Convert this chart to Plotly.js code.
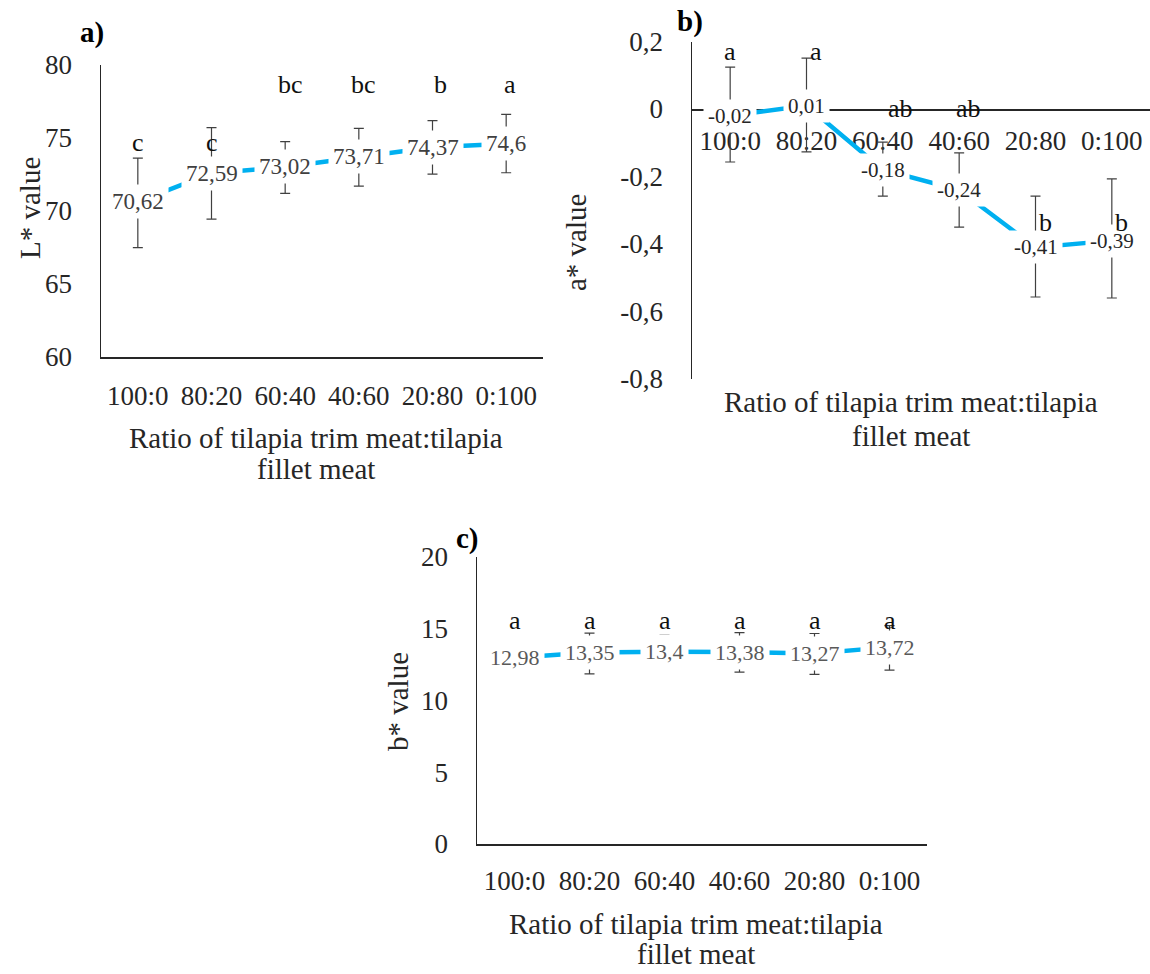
<!DOCTYPE html>
<html><head><meta charset="utf-8">
<script src="https://cdn.plot.ly/plotly-3.0.1.min.js"></script>
<style>html,body{margin:0;padding:0;background:#fff}#chart{width:1150px;height:974px}</style>
</head><body><div id="chart"></div>
<script>
// ---------- data ----------
const categories = ['100:0', '80:20', '60:40', '40:60', '20:80', '0:100'];

const lValues   = [70.62, 72.59, 73.02, 73.71, 74.37, 74.6];
const lErrPlus  = [3.0, 3.12, 1.73, 1.95, 1.82, 2.02];
const lErrMinus = [3.13, 3.14, 1.81, 2.0, 1.84, 1.98];
const lLetters  = ['c', 'c', 'bc', 'bc', 'b', 'a'];
const lLetterY  = [74.66, 74.66, 78.63, 78.63, 78.63, 78.63];

const aValues   = [-0.02, 0.01, -0.18, -0.24, -0.41, -0.39];
const aErrPlus  = [0.144, 0.141, 0.082, 0.11, 0.152, 0.183];
const aErrMinus = [0.137, 0.137, 0.078, 0.11, 0.147, 0.17];
const aLetters  = ['a', 'a', 'ab', 'ab', 'b', 'b'];
const aLetterY  = [0.17, 0.17, 0.0, 0.0, -0.335, -0.335];

const bValues   = [12.98, 13.35, 13.4, 13.38, 13.27, 13.72];
const bErrPlus  = [0.8, 1.35, 1.16, 1.35, 1.4, 1.5];
const bErrMinus = [0.8, 1.5, 0.8, 1.4, 1.45, 1.6];
const bLetters  = ['a', 'a', 'a', 'a', 'a', 'a'];
const bLetterY  = [15.6, 15.6, 15.6, 15.6, 15.6, 15.6];

const lTicks = [60, 65, 70, 75, 80];
const lTickText = ['60', '65', '70', '75', '80'];
const aTicks = [-0.8, -0.6, -0.4, -0.2, 0, 0.2];
const aTickText = ['-0,8', '-0,6', '-0,4', '-0,2', '0', '0,2'];
const bTicks = [0, 5, 10, 15, 20];
const bTickText = ['0', '5', '10', '15', '20'];

const xTitleLines = ['Ratio of tilapia trim meat:tilapia', 'fillet meat'];
const yTitles = ['L* value', 'a* value', 'b* value'];
const panelTags = ['a)', 'b)', 'c)'];

// ---------- layout helpers ----------
const W = 1150, H = 974;
const FONT = 'Liberation Serif, Times New Roman, serif';
const px = (x0, x1) => [x0 / W, x1 / W];
const py = (top, bottom) => [1 - bottom / H, 1 - top / H];
const fmt = v => String(v).replace('.', ',');

const panels = [
  {id: '', values: lValues, ep: lErrPlus, em: lErrMinus, letters: lLetters, letterY: lLetterY,
   ticks: lTicks, tickText: lTickText, range: [60, 80], ytitle: yTitles[0], tag: panelTags[0],
   xdom: px(101, 543), ydom: py(65, 357), ytx: 30, yty: 208, tagx: 92, tagy: 32,
   xt: [438, 469], xtShift: -6, standoff: 14,
   labelColor: '#404040', labelSize: 23, letterShift: [0, 0, 5, 5, 8, 4], zeroAxis: false},
  {id: '2', values: aValues, ep: aErrPlus, em: aErrMinus, letters: aLetters, letterY: aLetterY,
   ticks: aTicks, tickText: aTickText, range: [-0.8, 0.2], ytitle: yTitles[1], tag: panelTags[1],
   xdom: px(692, 1150), ydom: py(41.5, 379), ytx: 576, yty: 243, tagx: 690, tagy: 22,
   xt: [402, 436], xtShift: -10, standoff: 7,
   labelColor: '#262626', labelSize: 21, letterShift: [0, 10, 18, 9, 10, 10], zeroAxis: true},
  {id: '3', values: bValues, ep: bErrPlus, em: bErrMinus, letters: bLetters, letterY: bLetterY,
   ticks: bTicks, tickText: bTickText, range: [0, 20], ytitle: yTitles[2], tag: panelTags[2],
   xdom: px(477, 927), ydom: py(557, 844), ytx: 398, yty: 702, tagx: 467, tagy: 538,
   xt: [924, 954], xtShift: -6, standoff: 12,
   labelColor: '#595959', labelSize: 22, letterShift: [0, 0, 0, 0, 0, 0], zeroAxis: false}
];

const data = [];
const annotations = [];
const layout = {
  width: W, height: H, margin: {l: 0, r: 0, t: 0, b: 0},
  paper_bgcolor: '#fff', plot_bgcolor: '#fff', showlegend: false,
  separators: ', ', font: {family: FONT, color: '#262626'}
};

panels.forEach(p => {
  const xa = 'x' + p.id, ya = 'y' + p.id;
  data.push({
    type: 'scatter', mode: 'lines', x: categories, y: p.values,
    xaxis: xa, yaxis: ya, hoverinfo: 'skip',
    line: {color: '#00B0F0', width: 4.5},
    error_y: {type: 'data', symmetric: false, array: p.ep, arrayminus: p.em,
              color: '#404040', thickness: 1.2, width: 5}
  });

  const xaxis = {
    domain: p.xdom, type: 'category', range: [-0.5, categories.length - 0.5],
    anchor: ya, showline: true, linecolor: '#262626', linewidth: 1.5,
    showgrid: false, zeroline: false,
    ticks: '', ticklabelstandoff: p.standoff, tickfont: {family: FONT, size: 27, color: '#262626'},
    layer: 'below traces', fixedrange: true
  };
  if (p.zeroAxis) {
    // category axis crosses the value axis at 0
    xaxis.anchor = 'free';
    xaxis.position = p.ydom[0] + (0 - p.range[0]) / (p.range[1] - p.range[0]) * (p.ydom[1] - p.ydom[0]);
  }
  layout['xaxis' + p.id] = xaxis;
  layout['yaxis' + p.id] = {
    domain: p.ydom, range: p.range, anchor: xa,
    tickmode: 'array', tickvals: p.ticks, ticktext: p.tickText,
    showline: true, linecolor: '#262626', linewidth: 1.5, showgrid: false, zeroline: false,
    ticks: '', ticklabelstandoff: 22, tickfont: {family: FONT, size: 27, color: '#262626'},
    layer: 'below traces', fixedrange: true
  };

  // data labels (white boxes over the line, like the spreadsheet labels)
  p.values.forEach((v, i) => {
    annotations.push({
      xref: xa, yref: ya, x: categories[i], y: v, text: fmt(v), showarrow: false,
      xanchor: 'center', yanchor: 'middle', bgcolor: '#ffffff', borderpad: 4,
      font: {family: FONT, size: p.labelSize, color: p.labelColor}
    });
  });
  // significance letters
  p.letters.forEach((t, i) => {
    annotations.push({
      xref: xa, yref: ya, x: categories[i], y: p.letterY[i], text: t, showarrow: false,
      xanchor: 'center', yanchor: 'middle', xshift: p.letterShift[i],
      font: {family: FONT, size: 26, color: '#111'}
    });
  });
  // x axis title (two lines)
  xTitleLines.forEach((t, k) => {
    annotations.push({
      xref: xa + ' domain', yref: 'paper', x: 0.5, y: 1 - p.xt[k] / H, text: t,
      showarrow: false, xanchor: 'center', yanchor: 'middle', xshift: p.xtShift,
      font: {family: FONT, size: 29, color: '#262626'}
    });
  });
  // y axis title
  annotations.push({
    xref: 'paper', yref: 'paper', x: p.ytx / W, y: 1 - p.yty / H, text: p.ytitle,
    textangle: -90, showarrow: false, xanchor: 'center', yanchor: 'middle',
    font: {family: FONT, size: 29, color: '#262626'}
  });
  // panel tag
  annotations.push({
    xref: 'paper', yref: 'paper', x: p.tagx / W, y: 1 - p.tagy / H, text: '<b>' + p.tag + '</b>',
    showarrow: false, xanchor: 'center', yanchor: 'middle',
    font: {family: FONT, size: 29, color: '#000'}
  });
});

layout.annotations = annotations;
Plotly.newPlot('chart', data, layout, {staticPlot: true, displayModeBar: false});
</script>
</body></html>
